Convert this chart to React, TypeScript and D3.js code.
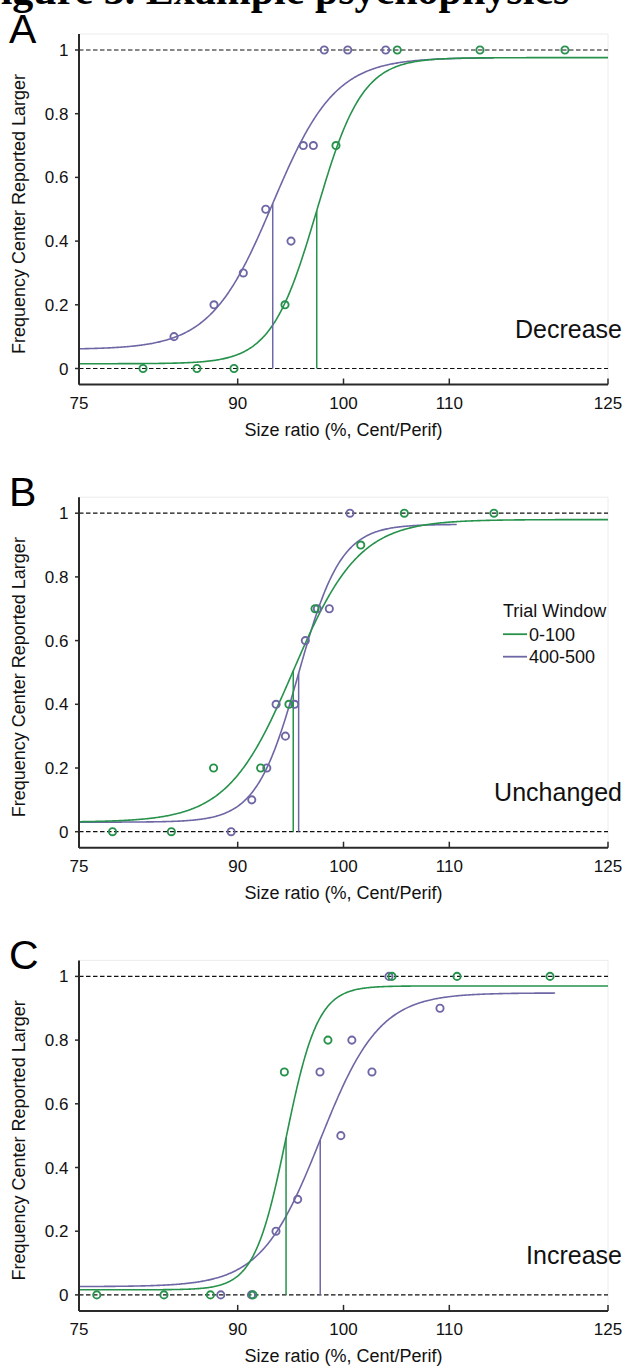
import React from "react";
import * as d3 from "d3";

// ---------- data ----------
const xTicks = [75, 90, 100, 110, 125];
const yTicks = [0, 0.2, 0.4, 0.6, 0.8, 1];
const yTickLabels = ["0", "0.2", "0.4", "0.6", "0.8", "1"];
const panelLetters = ["A", "B", "C"];
const conditionLabels = ["Decrease", "Unchanged", "Increase"];
const legendTitle = "Trial Window";
const seriesNames = ["0-100", "400-500"];
const seriesColors = ["#26924b", "#6e67a5"];
const xLabel = "Size ratio (%, Cent/Perif)";
const yLabel = "Frequency Center Reported Larger";
const figureTitle = "Figure 3. Example psychophysics";

// Panel A (Decrease)
const aGreenX = [81.05, 86.15, 89.65, 94.47, 99.29, 105.08, 112.9, 120.93];
const aGreenY = [0, 0, 0, 0.2, 0.7, 1, 1, 1];
const aPurpleX = [83.98, 87.76, 90.53, 92.65, 95.04, 96.2, 97.15, 98.18, 100.4, 103.99];
const aPurpleY = [0.1, 0.2, 0.3, 0.5, 0.4, 0.7, 0.7, 1, 1, 1];
// Panel B (Unchanged)
const bGreenX = [78.17, 83.73, 87.72, 92.17, 94.84, 97.31, 101.63, 105.75, 114.22];
const bGreenY = [0, 0, 0.2, 0.2, 0.4, 0.7, 0.9, 1, 1];
const bPurpleX = [89.38, 91.33, 92.75, 93.63, 94.51, 95.38, 96.39, 97.53, 98.66, 100.61];
const bPurpleY = [0, 0.1, 0.2, 0.4, 0.3, 0.4, 0.6, 0.7, 0.7, 1];
// Panel C (Increase)
const cGreenX = [76.68, 83.03, 87.42, 91.45, 94.41, 98.53, 104.58, 110.73, 119.52];
const cGreenY = [0, 0, 0, 0, 0.7, 0.8, 1, 1, 1];
const cPurpleX = [88.4, 91.3, 93.62, 95.67, 97.78, 99.75, 100.79, 102.69, 104.3, 109.12];
const cPurpleY = [0, 0, 0.2, 0.3, 0.7, 0.5, 0.8, 0.7, 1, 0.9];

// fitted logistic psychometric functions: [green, purple] per panel
const fitAlpha = [[97.47, 93.31], [95.25, 95.76], [94.57, 97.8]];
const fitSlope = [[2.15, 2.95], [3.1, 2.0], [1.5, 2.8]];
const fitLower = [[0.015, 0.06], [0.03, 0.03], [0.016, 0.026]];
const fitUpper = [[0.976, 0.976], [0.98, 0.965], [0.97, 0.948]];
const fitEnd = [[125, 114.2], [125, 110.7], [125, 120.0]];

const pointsX = [[aGreenX, aPurpleX], [bGreenX, bPurpleX], [cGreenX, cPurpleX]];
const pointsY = [[aGreenY, aPurpleY], [bGreenY, bPurpleY], [cGreenY, cPurpleY]];

// ---------- layout ----------
const W = 626;
const H = 1367;
const PX0 = 79;
const PX1 = 608;
const Y1 = 50;
const Y0 = 368.5;
const PITCH = 463.2;
const FONT = "'Liberation Sans', Arial, Helvetica, sans-serif";

function psy(x: number, a: number, s: number, lo: number, hi: number) {
  return lo + (hi - lo) / (1 + Math.exp(-(x - a) / s));
}

function Panel({ k }: { k: number }) {
  const off = k * PITCH;
  const x = d3.scaleLinear().domain([75, 125]).range([PX0, PX1]);
  const y = d3.scaleLinear().domain([0, 1]).range([Y0 + off, Y1 + off]);
  const axisY = y(0) + 16;
  const topY = y(1) - 16;
  const line = d3
    .line<[number, number]>()
    .x((d) => x(d[0]))
    .y((d) => y(d[1]));

  const curves = [0, 1].map((s) => {
    const pts: [number, number][] = d3
      .range(75, fitEnd[k][s] + 0.001, 0.1)
      .map((v) => [v, psy(v, fitAlpha[k][s], fitSlope[k][s], fitLower[k][s], fitUpper[k][s])]);
    return line(pts) || "";
  });

  return (
    <g>
      {/* faint plot frame */}
      <line x1={PX0} x2={PX1} y1={topY} y2={topY} stroke="#ececec" strokeWidth={1} />
      <line x1={PX1} x2={PX1} y1={topY} y2={axisY} stroke="#ececec" strokeWidth={1} />

      {/* dashed reference lines */}
      {[0, 1].map((v) => (
        <line
          key={v}
          x1={PX0}
          x2={PX1}
          y1={y(v)}
          y2={y(v)}
          stroke="#111"
          strokeWidth={1.2}
          strokeDasharray="4.5 2.5"
        />
      ))}

      {/* fitted curves (purple first, green on top) */}
      {[1, 0].map((s) => (
        <path key={s} d={curves[s]} fill="none" stroke={seriesColors[s]} strokeWidth={1.6} />
      ))}

      {/* threshold lines */}
      {[1, 0].map((s) => {
        const a = fitAlpha[k][s];
        const top = psy(a, a, fitSlope[k][s], fitLower[k][s], fitUpper[k][s]);
        return (
          <line
            key={s}
            x1={x(a)}
            x2={x(a)}
            y1={y(0)}
            y2={y(top)}
            stroke={seriesColors[s]}
            strokeWidth={1.5}
          />
        );
      })}

      {/* data points */}
      {[1, 0].map((s) =>
        pointsX[k][s].map((vx, i) => (
          <circle
            key={`${s}-${i}`}
            cx={x(vx)}
            cy={y(pointsY[k][s][i])}
            r={3.6}
            fill="none"
            stroke={seriesColors[s]}
            strokeWidth={1.9}
          />
        ))
      )}

      {/* axes */}
      <line x1={PX0} x2={PX0} y1={topY} y2={axisY} stroke="#2a2a2a" strokeWidth={2} />
      <line x1={PX0} x2={PX1} y1={axisY} y2={axisY} stroke="#2a2a2a" strokeWidth={2} />
      {xTicks.map((t) => (
        <g key={t}>
          <line x1={x(t)} x2={x(t)} y1={axisY} y2={axisY - 6} stroke="#2a2a2a" strokeWidth={1.5} />
          <text
            x={x(t)}
            y={axisY + 24.5}
            textAnchor="middle"
            fontFamily={FONT}
            fontSize={17}
            fill="#111"
          >
            {t}
          </text>
        </g>
      ))}
      {yTicks.map((t, i) => (
        <g key={t}>
          <line x1={PX0 - 4} x2={PX0} y1={y(t)} y2={y(t)} stroke="#2a2a2a" strokeWidth={1.5} />
          <text
            x={68.5}
            y={y(t) + 6}
            textAnchor="end"
            fontFamily={FONT}
            fontSize={17}
            fill="#111"
          >
            {yTickLabels[i]}
          </text>
        </g>
      ))}
      <text
        x={(PX0 + PX1) / 2}
        y={y(0) + 67.5}
        textAnchor="middle"
        fontFamily={FONT}
        fontSize={18}
        fill="#111"
      >
        {xLabel}
      </text>
      <text
        transform={`translate(25,${214 + off}) rotate(-90)`}
        textAnchor="middle"
        fontFamily={FONT}
        fontSize={18}
        fill="#111"
      >
        {yLabel}
      </text>

      {/* panel letter */}
      <text x={9} y={43 + off} fontFamily={FONT} fontSize={41} fill="#000">
        {panelLetters[k]}
      </text>

      {/* condition label */}
      <text
        x={622}
        y={y(0) - 31}
        textAnchor="end"
        fontFamily={FONT}
        fontSize={25}
        fill="#111"
      >
        {conditionLabels[k]}
      </text>

      {/* legend in panel B */}
      {k === 1 && (
        <g fontFamily={FONT} fontSize={18} fill="#111">
          <text x={503} y={y(0) - 215}>
            {legendTitle}
          </text>
          {seriesNames.map((n, s) => {
            const ly = y(0) - 197.5 + s * 22.5;
            return (
              <g key={n}>
                <line x1={503} x2={527} y1={ly} y2={ly} stroke={seriesColors[s]} strokeWidth={1.8} />
                <text x={529} y={ly + 6.5}>
                  {n}
                </text>
              </g>
            );
          })}
        </g>
      )}
    </g>
  );
}

export default function App() {
  return (
    <svg
      width={W}
      height={H}
      viewBox={`0 0 ${W} ${H}`}
      style={{ position: "absolute", left: 0, top: 0, background: "#fff" }}
    >
      <rect x={0} y={0} width={W} height={H} fill="#fff" />
      <text
        x={-25}
        y={4}
        fontFamily="'Liberation Serif', 'Times New Roman', serif"
        fontWeight="bold"
        fontSize={42}
        fill="#000"
      >
        {figureTitle}
      </text>
      {[0, 1, 2].map((k) => (
        <Panel key={k} k={k} />
      ))}
    </svg>
  );
}
